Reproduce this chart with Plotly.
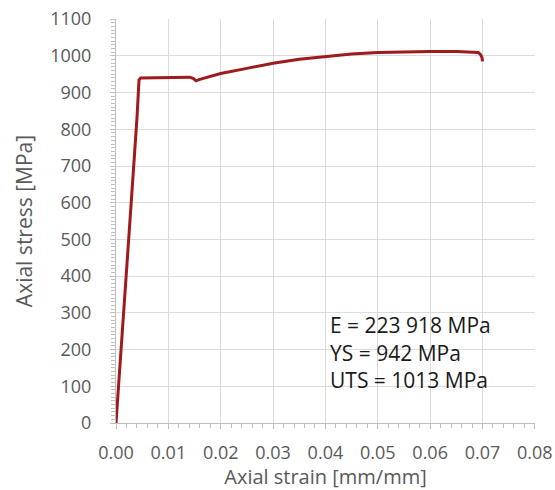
import plotly.graph_objects as go

strain = [0, 0.0005, 0.001, 0.0015, 0.002, 0.003, 0.004, 0.0044, 0.0047, 0.008, 0.012,
          0.0141, 0.0148, 0.0153, 0.0160, 0.018, 0.020, 0.025, 0.030, 0.035, 0.040,
          0.045, 0.050, 0.055, 0.060, 0.065, 0.068, 0.0692, 0.0696, 0.0699, 0.0700]
stress = [0, 100, 205, 310, 405, 620, 830, 935, 940, 941, 942,
          942, 938, 932, 936, 945, 952, 966, 980, 991, 999,
          1005, 1009, 1011, 1012, 1012, 1011, 1009, 1004, 996, 985]

notes = ["E = 223 918 MPa", "YS = 942 MPa", "UTS = 1013 MPa"]
note_y = [267, 192, 118]

FONT = "Open Sans"

fig = go.Figure()
fig.add_trace(go.Scatter(x=strain, y=stress, mode="lines",
                         line=dict(color="#9E1A1C", width=3), showlegend=False))

for t, y in zip(notes, note_y):
    fig.add_annotation(x=0.0405, y=y, text=t, showarrow=False, xanchor="left", yanchor="middle",
                       font=dict(size=21, color="#1a1a1a", family=FONT))

axis_common = dict(showgrid=True, gridcolor="#dcdcdc", gridwidth=1, showline=True,
                   linecolor="#bfbfbf", linewidth=1, ticks="outside", ticklen=5,
                   tickcolor="#bfbfbf", zeroline=False, automargin=False,
                   ticklabeloverflow="allow",
                   tickfont=dict(size=18, color="#595959", family=FONT))

fig.update_xaxes(range=[0, 0.08003], dtick=0.01, tickformat=".2f", ticklabelstandoff=8,
                 minor=dict(ticks="outside", dtick=0.002, ticklen=4, tickcolor="#bfbfbf", showgrid=False),
                 title=dict(text="Axial strain [mm/mm]", font=dict(size=20, color="#595959", family=FONT), standoff=6),
                 **axis_common)
fig.update_yaxes(range=[0, 1100.5], dtick=100, ticklabelstandoff=15,
                 minor=dict(ticks="outside", dtick=10, ticklen=4, tickcolor="#bfbfbf", showgrid=False),
                 title=dict(text="Axial stress [MPa]", font=dict(size=21, color="#595959", family=FONT), standoff=11),
                 **axis_common)

fig.update_layout(width=555, height=490, margin=dict(l=116, r=20, t=19, b=67),
                  plot_bgcolor="white", paper_bgcolor="white")

# remove the default 8px page margin so the figure fills the window exactly
fig.write_html("out.html", config={"displayModeBar": False},
               post_script="document.body.style.margin='0px';")
